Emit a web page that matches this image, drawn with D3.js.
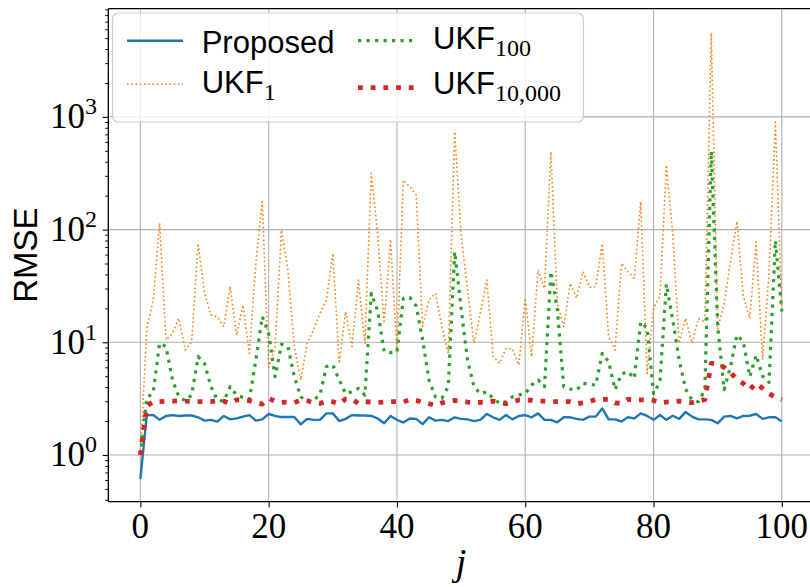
<!DOCTYPE html>
<html>
<head>
<meta charset="utf-8">
<script src="https://cdn.jsdelivr.net/npm/d3@7"></script>
<style>
  body { margin: 0; background: #fff; }
</style>
</head>
<body>
<div id="chart"></div>
<script>
// step index j = 0..100
var steps = d3.range(0, 101);

var proposed = [0.61, 2.26, 2.26, 2.05, 2.22, 2.26, 2.22, 2.24, 2.24, 2.16,
  2.02, 2.05, 1.98, 2.22, 2.07, 2.11, 2.19, 2.26, 2.02, 2.07,
  2.31, 2.22, 2.17, 2.17, 2.17, 1.87, 2.09, 2.05, 2.05, 2.34,
  2.34, 2.00, 2.09, 2.26, 2.24, 2.24, 2.22, 2.11, 1.91, 2.22,
  2.05, 1.94, 2.11, 2.09, 1.88, 2.16, 2.02, 2.05, 2.00, 2.16,
  2.09, 2.07, 2.00, 2.05, 2.31, 2.16, 2.05, 2.26, 2.07, 2.22,
  2.26, 2.16, 2.34, 2.05, 2.05, 1.95, 2.16, 2.16, 2.09, 2.05,
  2.19, 2.19, 2.59, 2.07, 2.07, 1.98, 2.16, 2.11, 2.34, 2.22,
  2.05, 2.26, 2.05, 2.23, 2.09, 2.41, 2.19, 2.07, 2.07, 2.05,
  1.91, 2.19, 2.22, 2.11, 2.22, 2.23, 2.31, 2.09, 2.16, 2.16,
  1.98];

var ukf1 = [1.0, 13.3, 23.7, 114, 10.5, 12.0, 16.3, 8.55, 10.1, 75.5,
  27.2, 17.5, 16.9, 13.8, 31.2, 11.6, 21.4, 7.98, 50.3, 177,
  6.0, 9.0, 99, 43.8, 9.15, 4.63, 9.8, 12.9, 18.1, 23.7,
  61.6, 6.5, 18.7, 9.15, 35.7, 9.8, 316, 90, 14.7, 82,
  8.26, 275, 240, 203, 13.8, 23.7, 27.2, 13.8, 7.98, 740,
  90, 29.1, 9.8, 18.1, 35.7, 7.46, 6.5, 8.84, 8.7, 6.3,
  24.6, 7.46, 43.8, 30, 490, 22, 13.8, 33.4, 24.6, 42.4,
  30.8, 31.2, 75, 11.2, 8.55, 50.3, 42.4, 37, 177, 5.3,
  20, 25.7, 374, 90, 9.8, 16.3, 9.8, 16.3, 15.2, 5600,
  13, 22, 52, 118, 25.8, 16.3, 78, 7.0, 40, 900,
  19];

var ukf100 = [1.0, 3.2, 3.57, 9.8, 9.15, 4.63, 3.29, 3.03, 3.41, 7.46,
  6.5, 4.04, 3.08, 3.0, 4.04, 3.41, 3.24, 3.13, 6.97, 16.9,
  12.0, 4.95, 9.6, 9.15, 4.95, 3.29, 2.97, 3.08, 3.41, 6.08,
  6.3, 4.63, 3.5, 3.64, 3.9, 3.4, 27.2, 19.0, 8.3, 8.09,
  8.2, 24.6, 25.0, 21.0, 10.5, 4.63, 3.29, 3.18, 4.04, 63.7,
  20.0, 6.97, 4.04, 3.5, 3.64, 3.18, 2.87, 2.97, 3.29, 3.41,
  3.5, 4.17, 4.63, 4.04, 42.4, 19.4, 4.04, 3.85, 3.77, 4.32,
  4.25, 4.17, 7.98, 6.73, 3.8, 5.23, 5.5, 4.78, 15.2, 13.3,
  3.5, 4.47, 32.9, 15.8, 6.97, 3.85, 3.08, 2.97, 3.8, 495,
  14, 3.8, 6.08, 11.6, 10.1, 4.95, 7.7, 5.0, 4.4, 80,
  18.7];

var ukf10000 = [1.0, 2.72, 2.97, 2.97, 3.0, 3.0, 3.03, 3.0, 2.98, 2.97,
  2.97, 2.98, 3.03, 3.0, 2.87, 3.08, 3.08, 3.03, 2.91, 2.83,
  3.18, 3.0, 2.93, 2.95, 2.91, 3.08, 3.03, 2.91, 2.87, 3.0,
  2.97, 2.83, 3.14, 3.12, 2.87, 2.97, 2.95, 2.93, 2.95, 2.97,
  2.97, 2.95, 3.1, 3.05, 2.93, 2.85, 2.75, 2.9, 2.97, 3.05,
  3.0, 2.95, 2.91, 2.93, 2.93, 3.0, 2.93, 2.85, 2.95, 3.08,
  3.08, 3.06, 3.0, 3.0, 2.97, 2.97, 2.97, 2.97, 2.85, 2.9,
  2.97, 3.12, 3.12, 3.12, 2.9, 2.87, 3.12, 3.08, 3.08, 3.08,
  3.05, 2.91, 2.95, 2.97, 3.0, 2.97, 2.91, 3.0, 3.1, 6.5,
  6.4, 6.0, 5.4, 4.7, 4.3, 3.8, 4.35, 3.9, 3.5, 3.25,
  3.1];

var xTicks = [0, 20, 40, 60, 80, 100];
var yTicks = [1, 10, 100, 1000];
var yTickExp = ['0', '1', '2', '3'];

var width = 810;
var height = 587;
var plot = { left: 108.3, right: 813.9, top: 8.7, bottom: 501.7 };

var serif = "'Liberation Serif', 'DejaVu Serif', serif";
var sans = "'Liberation Sans', 'DejaVu Sans', sans-serif";

var x = d3.scaleLinear().domain([-5, 105]).range([plot.left, plot.right]);
var y = d3.scaleLog().domain([0.385, 9120]).range([plot.bottom, plot.top]);

var svg = d3.select('#chart')
  .append('svg')
  .attr('width', width)
  .attr('height', height)
  .style('font-family', serif);

svg.append('defs').append('clipPath').attr('id', 'clip')
  .append('rect')
  .attr('x', plot.left).attr('y', plot.top)
  .attr('width', plot.right - plot.left)
  .attr('height', plot.bottom - plot.top);

// grid
var grid = svg.append('g').attr('stroke', '#b0b0b0').attr('stroke-width', 1.1);
grid.selectAll('.gx').data(xTicks).enter().append('line')
  .attr('x1', function(d) { return x(d); }).attr('x2', function(d) { return x(d); })
  .attr('y1', plot.top).attr('y2', plot.bottom);
grid.selectAll('.gy').data(yTicks).enter().append('line')
  .attr('x1', plot.left).attr('x2', plot.right)
  .attr('y1', function(d) { return y(d); }).attr('y2', function(d) { return y(d); });

// series
var line = d3.line()
  .x(function(d, i) { return x(steps[i]); })
  .y(function(d) { return y(d); });

var series = [
  { name: 'Proposed', values: proposed, color: '#1f77b4', w: 2.4, dash: null },
  { name: 'UKF1', values: ukf1, color: '#ff7f0e', w: 1.6, dash: '1.6,2.64' },
  { name: 'UKF100', values: ukf100, color: '#2ca02c', w: 3.2, dash: '3.2,5.3' },
  { name: 'UKF10000', values: ukf10000, color: '#d62728', w: 4.8, dash: '4.8,7.9' }
];

var lines = svg.append('g').attr('clip-path', 'url(#clip)');
series.forEach(function(s) {
  lines.append('path')
    .attr('d', line(s.values))
    .attr('fill', 'none')
    .attr('stroke', s.color)
    .attr('stroke-width', s.w)
    .attr('stroke-linejoin', 'round')
    .attr('stroke-dasharray', s.dash);
});

// axes
var xAxis = d3.axisBottom(x).tickValues(xTicks).tickSize(5.6).tickSizeOuter(0).tickFormat('');
svg.append('g').attr('transform', 'translate(0,' + plot.bottom + ')').call(xAxis)
  .call(function(g) {
    g.select('.domain').remove();
    g.selectAll('line').attr('stroke', '#000').attr('stroke-width', 1.1);
  });

var minor = [];
[0.1, 1, 10, 100, 1000].forEach(function(b) {
  for (var k = 2; k <= 9; k++) {
    var v = b * k;
    if (v >= y.domain()[0] && v <= y.domain()[1]) minor.push(v);
  }
});

var yAxisMinor = d3.axisLeft(y).tickValues(minor).tickSize(3.2).tickSizeOuter(0).tickFormat('');
svg.append('g').attr('transform', 'translate(' + plot.left + ',0)').call(yAxisMinor)
  .call(function(g) {
    g.select('.domain').remove();
    g.selectAll('line').attr('stroke', '#000').attr('stroke-width', 0.9);
  });

var yAxis = d3.axisLeft(y).tickValues(yTicks).tickSize(5.6).tickSizeOuter(0).tickFormat('');
svg.append('g').attr('transform', 'translate(' + plot.left + ',0)').call(yAxis)
  .call(function(g) {
    g.select('.domain').remove();
    g.selectAll('line').attr('stroke', '#000').attr('stroke-width', 1.1);
  });

// spines
var spines = svg.append('g').attr('stroke', '#000').attr('stroke-width', 1.3);
spines.append('line').attr('x1', plot.left).attr('x2', plot.left).attr('y1', plot.top).attr('y2', plot.bottom);
spines.append('line').attr('x1', plot.left).attr('x2', plot.right).attr('y1', plot.bottom).attr('y2', plot.bottom);
spines.append('line').attr('x1', plot.left).attr('x2', plot.right).attr('y1', plot.top).attr('y2', plot.top);
spines.append('line').attr('x1', plot.right).attr('x2', plot.right).attr('y1', plot.top).attr('y2', plot.bottom);

// tick labels
svg.selectAll('.xl').data(xTicks).enter().append('text')
  .attr('x', function(d) { return x(d); })
  .attr('y', 538)
  .attr('text-anchor', 'middle')
  .attr('font-size', 35)
  .attr('fill', '#000')
  .text(function(d) { return d; });

var yl = svg.selectAll('.yl').data(yTicks).enter().append('text')
  .attr('x', 97)
  .attr('y', function(d) { return y(d) + 11.5; })
  .attr('text-anchor', 'end')
  .attr('font-size', 35)
  .attr('fill', '#000');
yl.append('tspan').text('10');
yl.append('tspan').attr('font-size', 24).attr('dy', -14)
  .text(function(d, i) { return yTickExp[i]; });

// axis titles
svg.append('text')
  .attr('transform', 'translate(37,' + ((plot.top + plot.bottom) / 2) + ') rotate(-90)')
  .attr('text-anchor', 'middle')
  .attr('font-family', sans)
  .attr('font-size', 33)
  .attr('fill', '#000')
  .text('RMSE');

svg.append('text')
  .attr('x', (plot.left + plot.right) / 2)
  .attr('y', 575)
  .attr('text-anchor', 'middle')
  .attr('font-size', 38)
  .attr('font-style', 'italic')
  .attr('fill', '#000')
  .text('j');

// legend
var legend = svg.append('g');
legend.append('rect')
  .attr('x', 112.5).attr('y', 13)
  .attr('width', 471).attr('height', 109)
  .attr('rx', 6).attr('ry', 6)
  .attr('fill', 'rgba(255,255,255,0.8)')
  .attr('stroke', '#cccccc')
  .attr('stroke-width', 1.1);

var legendItems = [
  { s: series[0], hx: 127, hy: 40.7, tx: 201.7, ty: 53, label: 'Proposed', sub: '' },
  { s: series[1], hx: 127, hy: 84.3, tx: 201.7, ty: 93, label: 'UKF', sub: '1' },
  { s: series[2], hx: 358, hy: 40.7, tx: 433, ty: 48.5, label: 'UKF', sub: '100' },
  { s: series[3], hx: 358, hy: 87.7, tx: 433, ty: 94.3, label: 'UKF', sub: '10,000' }
];

legendItems.forEach(function(it) {
  legend.append('line')
    .attr('x1', it.hx).attr('x2', it.hx + 56)
    .attr('y1', it.hy).attr('y2', it.hy)
    .attr('stroke', it.s.color)
    .attr('stroke-width', it.s.w)
    .attr('stroke-dasharray', it.s.dash);
  var t = legend.append('text')
    .attr('x', it.tx).attr('y', it.ty)
    .attr('fill', '#000');
  t.append('tspan').attr('font-family', sans).attr('font-size', 31).text(it.label);
  if (it.sub) {
    t.append('tspan').attr('font-family', serif).attr('font-size', 24).attr('dy', 7).text(it.sub);
  }
});
</script>
</body>
</html>
